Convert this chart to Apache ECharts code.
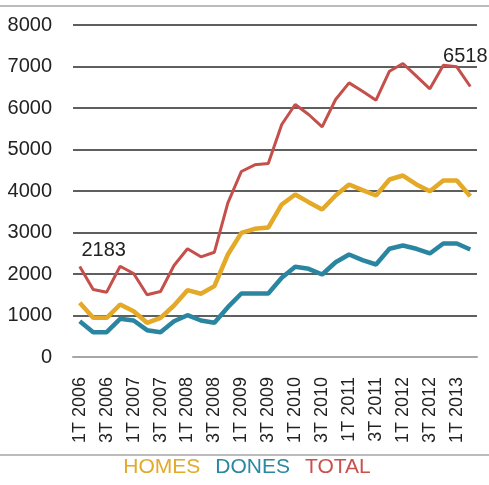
<!DOCTYPE html>
<html>
<head>
<meta charset="utf-8">
<script src="https://cdn.jsdelivr.net/npm/echarts@6/dist/echarts.min.js"></script>
<style>
  html, body { margin: 0; padding: 0; background: #fff; }
  #main { width: 489px; height: 485px; }
</style>
</head>
<body>
<div id="main"></div>
<script>
var quarters = [
    '1T 2006', '2T 2006', '3T 2006', '4T 2006',
    '1T 2007', '2T 2007', '3T 2007', '4T 2007',
    '1T 2008', '2T 2008', '3T 2008', '4T 2008',
    '1T 2009', '2T 2009', '3T 2009', '4T 2009',
    '1T 2010', '2T 2010', '3T 2010', '4T 2010',
    '1T 2011', '2T 2011', '3T 2011', '4T 2011',
    '1T 2012', '2T 2012', '3T 2012', '4T 2012',
    '1T 2013', '2T 2013'
];
var homes = [1306, 944, 944, 1265, 1104, 824, 944, 1241, 1610, 1523, 1707, 2470, 2992, 3089, 3120,
             3675, 3916, 3731, 3554, 3892, 4157, 4020, 3892, 4277, 4373, 4157, 3996, 4253, 4253, 3875];
var dones = [863, 598, 598, 920, 880, 646, 598, 863, 1007, 880, 824, 1200, 1530, 1530, 1530,
             1908, 2173, 2125, 1988, 2284, 2470, 2333, 2229, 2607, 2687, 2607, 2494, 2735, 2735, 2590];
var total = [2183, 1627, 1562, 2188, 2012, 1499, 1578, 2205, 2607, 2414, 2525, 3715, 4470, 4631, 4663,
             5602, 6084, 5843, 5547, 6205, 6606, 6405, 6188, 6887, 7072, 6767, 6462, 7032, 6992, 6518];

var font = 'Liberation Sans';

// only the first and last value of the total get a label
var totalData = total.map(function (v, i) {
    if (i === 0) {
        return { value: v, label: { show: true, position: 'top', offset: [24, -1] } };
    }
    if (i === total.length - 1) {
        return { value: v, label: { show: true, position: 'top', offset: [-5, -15] } };
    }
    return v;
});

var myChart = echarts.init(document.getElementById('main'));
var option = {
    animation: false,
    grid: { left: 73, right: 12, top: 25, bottom: 128 },
    graphic: [
        { type: 'line', shape: { x1: 0, y1: 6, x2: 489, y2: 6 }, style: { stroke: '#a6a6a6', lineWidth: 1.5 } },
        { type: 'line', shape: { x1: 0, y1: 455, x2: 489, y2: 455 }, style: { stroke: '#a6a6a6', lineWidth: 1.5 } }
    ],
    legend: {
        bottom: 2,
        left: 'center',
        icon: 'none',
        itemWidth: 0,
        itemGap: 10,
        textStyle: { fontFamily: font, fontSize: 21, padding: 0 },
        data: [
            { name: 'HOMES', textStyle: { color: '#e3a927' } },
            { name: 'DONES', textStyle: { color: '#2a88a3' } },
            { name: 'TOTAL', textStyle: { color: '#c9504b' } }
        ]
    },
    xAxis: {
        type: 'category',
        data: quarters,
        boundaryGap: true,
        axisLine: { lineStyle: { color: '#a6a6a6', width: 2 } },
        axisTick: { show: false },
        axisLabel: {
            interval: 1,
            rotate: 90,
            margin: 20,
            color: '#222',
            fontFamily: font,
            fontSize: 18
        }
    },
    yAxis: {
        type: 'value',
        min: 0,
        max: 8000,
        interval: 1000,
        axisLine: { show: false },
        axisTick: { show: false },
        axisLabel: {
            margin: 21,
            color: '#222',
            fontFamily: font,
            fontSize: 20,
            formatter: function (v) { return String(v); }
        },
        splitLine: { lineStyle: { color: '#2a2a2a', width: 1.5 } }
    },
    series: [
        {
            name: 'HOMES',
            type: 'line',
            data: homes,
            symbol: 'none',
            color: '#e3a927',
            lineStyle: { width: 4.5 }
        },
        {
            name: 'DONES',
            type: 'line',
            data: dones,
            symbol: 'none',
            color: '#2a86a0',
            lineStyle: { width: 4.5 }
        },
        {
            name: 'TOTAL',
            type: 'line',
            data: totalData,
            symbol: 'circle',
            symbolSize: 0,
            showSymbol: true,
            color: '#c44f4b',
            lineStyle: { width: 3 },
            label: { color: '#222', fontFamily: font, fontSize: 20 }
        }
    ]
};
myChart.setOption(option);
</script>
</body>
</html>
